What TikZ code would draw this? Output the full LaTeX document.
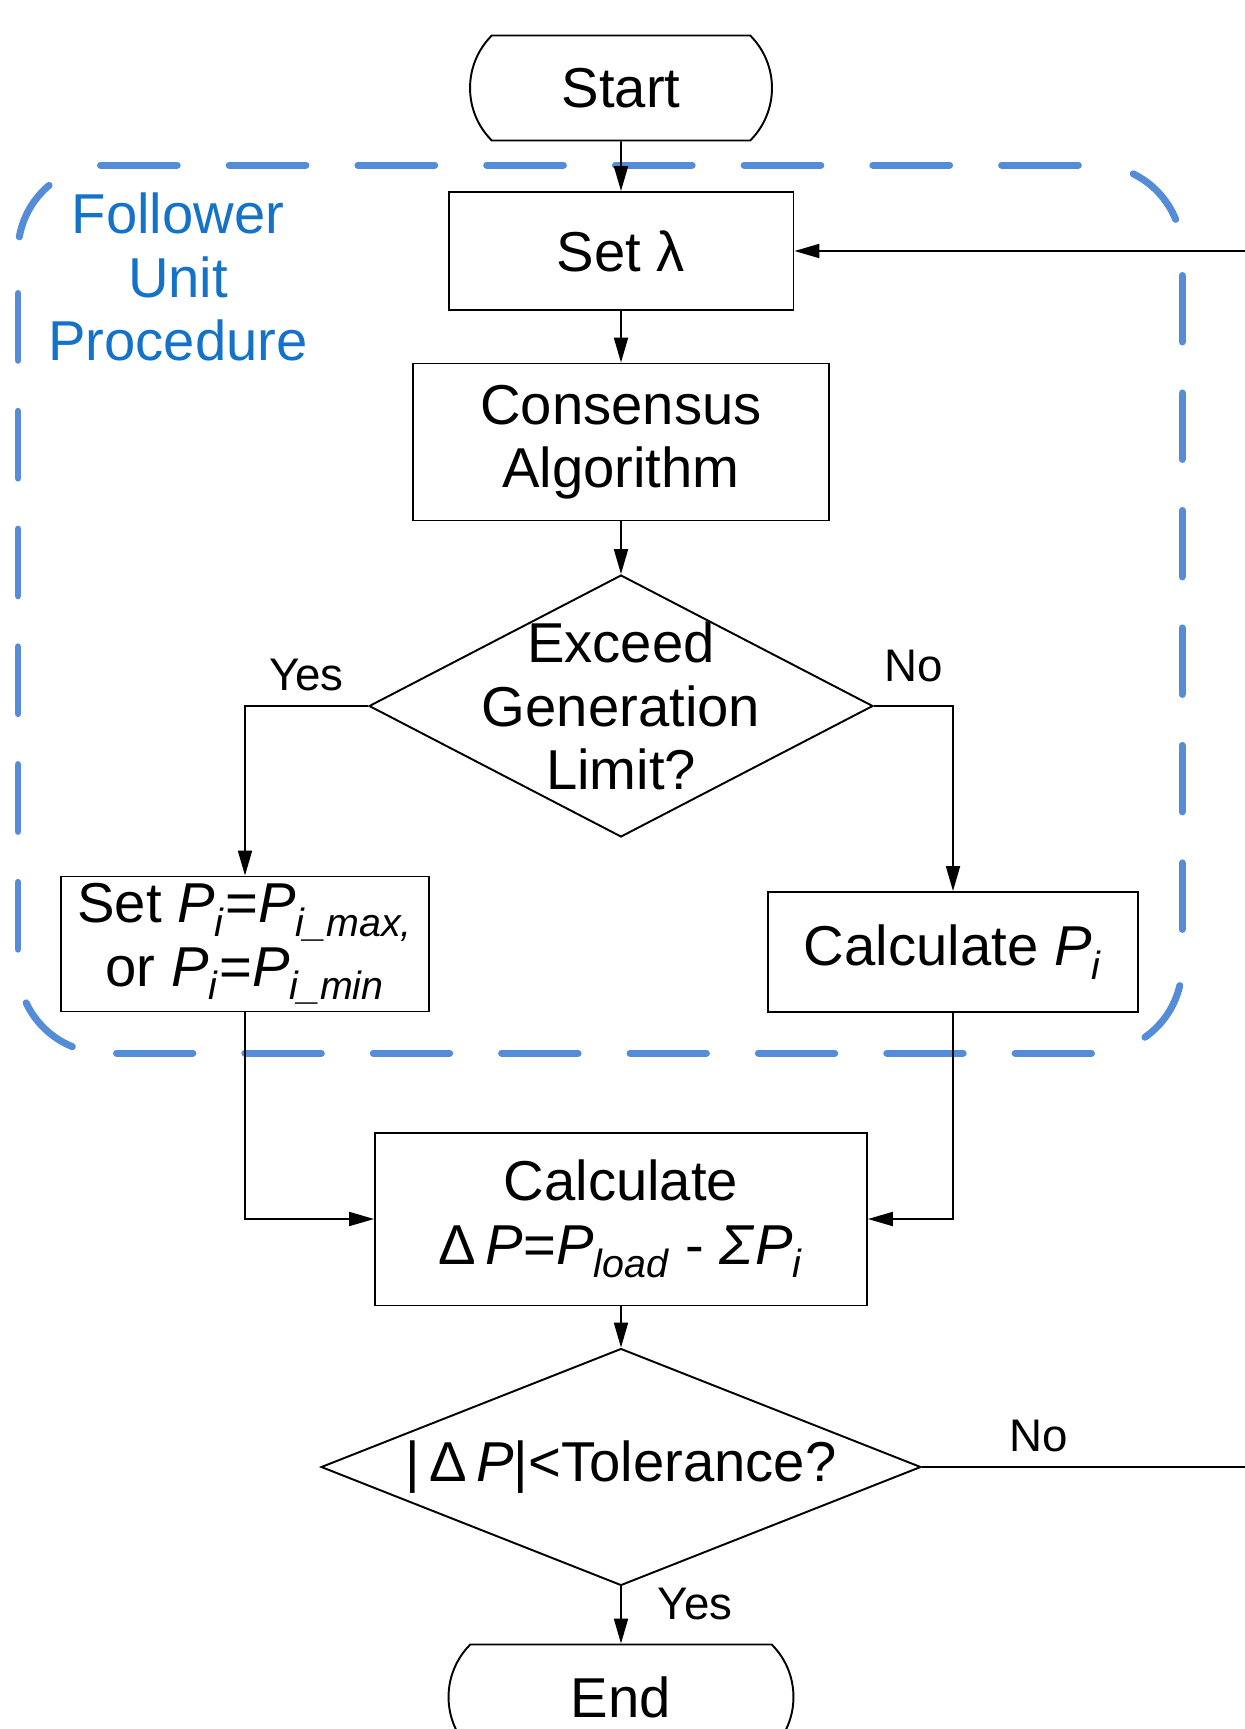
\documentclass[tikz,border=0pt]{standalone}
\usepackage{fontspec}
\setmainfont{Liberation Sans}
\usetikzlibrary{shapes.geometric,shapes.misc,arrows.meta}

\definecolor{frameblue}{RGB}{85,140,215}
\definecolor{labelblue}{RGB}{20,115,200}

\newcommand{\Pv}[1]{\textit{P}\textsubscript{\textit{#1}}}
\newcommand{\boxfont}{\fontsize{32}{36}\selectfont}
\newcommand{\tagfont}{\fontsize{26}{30}\selectfont}

\tikzset{
  terminal/.style={draw,rounded rectangle,rounded rectangle arc length=90,minimum height=2.1cm},
  process/.style={draw,rectangle},
  decision/.style={draw,diamond},
  tag/.style={font=\tagfont,inner sep=2pt},
  frameline/.style={frameblue,line width=0.14cm,line cap=round}
}

\begin{document}
\begin{tikzpicture}[x=0.02cm,y=-0.02cm,line width=1.1pt,
    >={Triangle[length=0.5cm,width=0.28cm]}]

      \useasboundingbox (0,0) rectangle (1245,1729);

      % follower unit frame: sides, then the corner arcs
      \draw[frameline,dash pattern=on 1.535cm off 1.04cm] (100.5,165) -- (1078.5,165);
      \draw[frameline,dash pattern=on 1.528cm off 1.04cm] (116.5,1053) -- (1091.5,1053);
      \draw[frameline,dash pattern=on 1.336cm off 1.02cm] (18,293.5) -- (18,949.5);
      \draw[frameline,dash pattern=on 1.33cm off 1.02cm] (1182,275.5) -- (1182,929.5);
      \draw[frameline] (105,252) ++(190:87) arc[start angle=190,end angle=230,radius=87];
      \draw[frameline] (1095,252) ++(296:87) arc[start angle=296,end angle=338,radius=87];
      \draw[frameline] (105,966) ++(155:87) arc[start angle=155,end angle=112,radius=87];
      \draw[frameline] (1095,966) ++(13:87) arc[start angle=13,end angle=55,radius=87];
      \node[text=labelblue,align=center,font=\boxfont] (fup) at (178,277) {Follower\\Unit\\Procedure};

      \begin{scope}[every node/.style={align=center,font=\boxfont,inner sep=0pt}]
        \node[terminal,minimum width=6.04cm] (start) at (621,88)  {Start};
        \node[process,minimum width=6.9cm,minimum height=2.36cm]  (setl)  at (621,251)  {Set λ};
        \node[process,minimum width=8.34cm,minimum height=3.14cm] (cons)  at (621,442)  {Consensus\\Algorithm};
        \node[decision,minimum width=10.08cm,minimum height=5.24cm,
          label={center:Exceed\\Generation\\Limit?}] (lim) at (621,706) {};
        \node[process,minimum width=7.36cm,minimum height=2.7cm]  (setp)  at (245,944)  {Set \Pv{i}=\Pv{i\_max,}\\or \Pv{i}=\Pv{i\_min}};
        \node[process,minimum width=7.4cm,minimum height=2.4cm]   (calcp) at (953,952)  {Calculate \Pv{i}};
        \node[process,minimum width=9.84cm,minimum height=3.46cm] (dp)    at (621,1219) {Calculate\\Δ\,\textit{P}=\Pv{load} - \textit{Σ}\Pv{i}};
        \node[decision,minimum width=12cm,minimum height=4.74cm,
          label={center:|\,Δ\,\textit{P}|<Tolerance?}] (tol) at (621,1467) {};
        \node[terminal,minimum width=6.9cm]  (end)  at (621,1697) {End};
      \end{scope}

      \coordinate (back) at (1300,1467);

      \draw[->] (start) -- (setl);
      \draw[->] (setl) -- (cons);
      \draw[->] (cons) -- (lim);
      \draw[->] (lim.west) -| node[tag,above=0.22cm,pos=0.25] {Yes} (setp.north);
      \draw[->] (lim.east) -| node[tag,above=0.4cm,pos=0.25] {No} (calcp.north);
      \draw[->] (setp.south) |- (dp.west);
      \draw[->] (calcp.south) |- (dp.east);
      \draw[->] (dp) -- (tol);
      \draw[->] (tol.south) -- node[tag,right=0.65cm,pos=0.3] {Yes} (end.north);
      \draw[->] (tol.east) -- node[tag,above=0.22cm,pos=0.31] {No} (back) |- (setl.east);

    \end{tikzpicture}
\end{document}
